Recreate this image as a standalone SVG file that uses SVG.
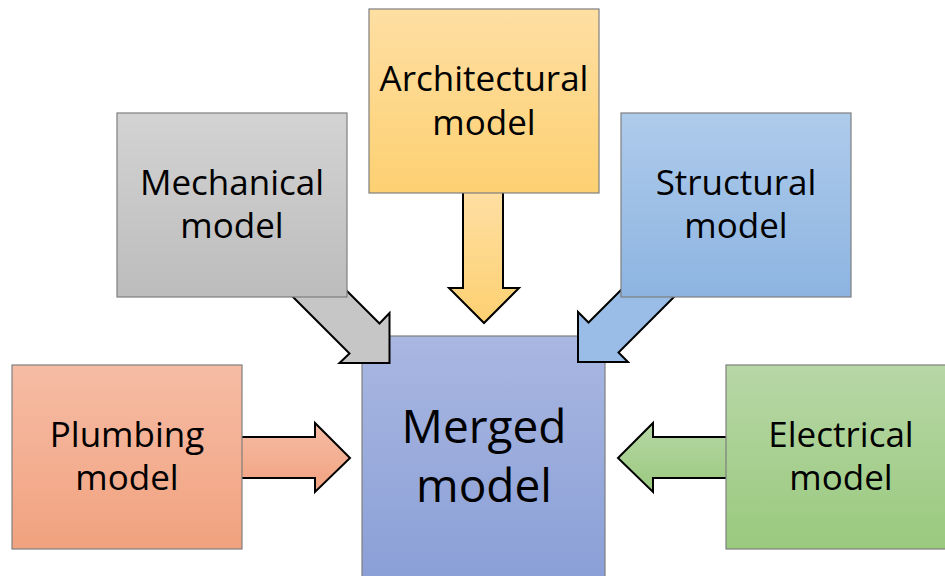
<svg xmlns="http://www.w3.org/2000/svg" width="945" height="576" viewBox="0 0 945 576">
<defs>
<linearGradient id="gGray" x1="0" y1="0" x2="0" y2="1"><stop offset="0" stop-color="#d3d3d3"/><stop offset="1" stop-color="#bcbcbc"/></linearGradient>
<linearGradient id="gOrange" x1="0" y1="0" x2="0" y2="1"><stop offset="0" stop-color="#fedfa3"/><stop offset="1" stop-color="#fdd071"/></linearGradient>
<linearGradient id="gBlue" x1="0" y1="0" x2="0" y2="1"><stop offset="0" stop-color="#aecbeb"/><stop offset="1" stop-color="#8db4e1"/></linearGradient>
<linearGradient id="gRed" x1="0" y1="0" x2="0" y2="1"><stop offset="0" stop-color="#f6bca5"/><stop offset="1" stop-color="#f1a27f"/></linearGradient>
<linearGradient id="gGreen" x1="0" y1="0" x2="0" y2="1"><stop offset="0" stop-color="#b7d7a6"/><stop offset="1" stop-color="#9ac97e"/></linearGradient>
<linearGradient id="gMerged" x1="0" y1="0" x2="0" y2="1"><stop offset="0" stop-color="#a9b7e1"/><stop offset="1" stop-color="#8a9fd7"/></linearGradient>
</defs>
<style>
.box{stroke:#7f7f7f;stroke-width:1.2}
.arr{stroke:#000;stroke-width:2;stroke-linejoin:miter}
.t{font-family:"Open Sans","Noto Sans","Liberation Sans",sans-serif;font-size:35px;fill:#000;text-anchor:middle}
.tb{font-size:46px}
</style>
<g id="merged">
<rect class="box" x="362" y="336" width="243" height="250" fill="url(#gMerged)"/>
<text class="t tb" x="484" y="443">Merged</text>
<text class="t tb" x="484" y="502">model</text>
</g>
<g id="connectors">
<polygon class="arr" fill="url(#gOrange)" points="463,190 463,288 449,288 484,323 519,288 503,288 503,190"/>
<polygon class="arr" fill="#c6c6c6" points="270,274 349.5,353.5 339.5,363 389.5,363 389.5,313 379.5,323.5 330,274"/>
<polygon class="arr" fill="#99bde6" points="641,270 588.5,322.5 578,312 578,362 628,362 618.5,352.5 701,270"/>
<polygon class="arr" fill="url(#gRed)" points="240,437 315,437 315,423 350,458 315,492 315,478 240,478"/>
<polygon class="arr" fill="url(#gGreen)" points="730,437 653,437 653,423 618,458 653,492 653,478 730,478"/>
</g>
<g id="mechanical">
<rect class="box" x="117" y="113" width="230" height="184" fill="url(#gGray)"/>
<text class="t" x="232" y="195">Mechanical</text>
<text class="t" x="232" y="238">model</text>
</g>
<g id="architectural">
<rect class="box" x="369" y="9" width="230" height="184" fill="url(#gOrange)"/>
<text class="t" x="484" y="91">Architectural</text>
<text class="t" x="484" y="135">model</text>
</g>
<g id="structural">
<rect class="box" x="621" y="113" width="230" height="184" fill="url(#gBlue)"/>
<text class="t" x="736" y="195">Structural</text>
<text class="t" x="736" y="238">model</text>
</g>
<g id="plumbing">
<rect class="box" x="12" y="365" width="230" height="184" fill="url(#gRed)"/>
<text class="t" x="127" y="447">Plumbing</text>
<text class="t" x="127" y="490">model</text>
</g>
<g id="electrical">
<rect class="box" x="726" y="365" width="230" height="184" fill="url(#gGreen)"/>
<text class="t" x="841" y="447">Electrical</text>
<text class="t" x="841" y="490">model</text>
</g>
</svg>
